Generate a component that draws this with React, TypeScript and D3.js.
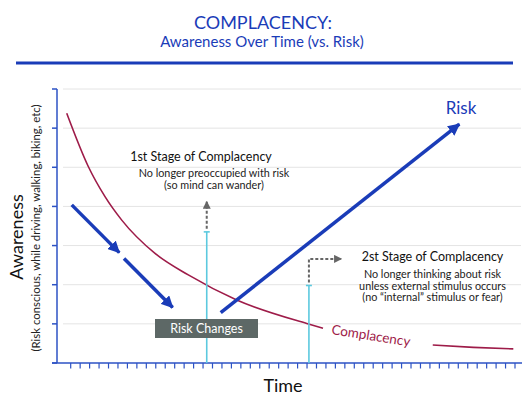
import { useMemo } from 'react'
import * as d3 from 'd3'

// awareness levels (y gridlines) and time ticks
const awarenessLevels = [0, 1, 2, 3, 4, 5, 6, 7]
const timeTicks = [
  0, 1, 2, 3, 4, 5, 6, 7, 8, 9, 10, 11, 12, 13, 14, 15, 16, 17, 18, 19, 20, 21, 22, 23,
  24, 25, 26, 27, 28, 29, 30, 31, 32, 33, 34, 35, 36, 37, 38, 39, 40, 41, 42, 43, 44, 45, 46, 47,
]

// [time, awareness]
const complacencyHead: [number, number][] = [
  [-0.42, 6.38], [1.86, 5.02], [3.63, 4.25], [5.4, 3.65], [8.92, 2.8],
  [12.44, 2.25], [17.56, 1.61], [24.97, 1.01], [26.69, 0.89],
]
const complacencyTail: [number, number][] = [[38.3, 0.46], [42.59, 0.4], [46.82, 0.36]]

const riskDropA: [number, number][] = [[0.11, 4.04], [5.14, 2.82]]
const riskDropB: [number, number][] = [[5.64, 2.67], [10.79, 1.42]]
const riskRise: [number, number][] = [[15.87, 1.29], [41.11, 6.1]]

const stage1 = { t: 14.39, level: 3.35, dashTo: 4.12 }
const stage2 = { t: 25.2, level: 1.98, turn: 2.66, dashToT: 28.6 }

const stage1Lines = ['No longer preoccupied with risk', '(so mind can wander)']
const stage2Lines = [
  'No longer thinking about risk',
  'unless external stimulus occurs',
  '(no \u201cinternal\u201d stimulus or fear)',
]

const BLUE = '#1a3cb8'
const AXIS = '#2d52c4'
const CRIMSON = '#9e1c49'
const CYAN = '#5cc9df'
const GRAY = '#666'
const FONT = 'Lato, "Open Sans", sans-serif'

export default function App() {
  const x = useMemo(() => d3.scaleLinear().domain([0, 47]).range([70.7, 515]), [])
  const y = useMemo(() => d3.scaleLinear().domain([0, 7]).range([363, 89]), [])

  const curve = d3
    .line<[number, number]>()
    .x((d) => x(d[0]))
    .y((d) => y(d[1]))
    .curve(d3.curveMonotoneX)
  const straight = d3
    .line<[number, number]>()
    .x((d) => x(d[0]))
    .y((d) => y(d[1]))

  return (
    <svg
      width={527}
      height={399}
      style={{ position: 'absolute', left: 0, top: 0, background: '#fff' }}
      fontFamily={FONT}
    >
      <defs>
        <marker id="blueHead" markerUnits="userSpaceOnUse" markerWidth={12} markerHeight={12}
          viewBox="0 0 12 12" refX={11} refY={6} orient="auto">
          <path d="M0,0 L12,6 L0,12 Z" fill={BLUE} />
        </marker>
        <marker id="grayHead" markerUnits="userSpaceOnUse" markerWidth={8} markerHeight={8}
          viewBox="0 0 8 8" refX={7} refY={4} orient="auto">
          <path d="M0,0 L8,4 L0,8 Z" fill={GRAY} />
        </marker>
      </defs>

      {/* title */}
      <text x={263} y={29} textAnchor="middle" fill={BLUE} fontSize={18}>COMPLACENCY:</text>
      <text x={262} y={47} textAnchor="middle" fill={BLUE} fontSize={15}>Awareness Over Time (vs. Risk)</text>
      <line x1={16} x2={513} y1={63} y2={63} stroke={BLUE} strokeWidth={3} />

      {/* gridlines */}
      {awarenessLevels.slice(1).map((l) => (
        <line key={l} x1={63} x2={521} y1={y(l)} y2={y(l)} stroke="#e4e4e4" strokeWidth={1} />
      ))}

      {/* axes */}
      <line x1={57} x2={57} y1={y(7)} y2={y(0)} stroke={AXIS} strokeWidth={1.5} />
      {awarenessLevels.map((l) => (
        <line key={l} x1={52} x2={57} y1={y(l)} y2={y(l)} stroke={AXIS} strokeWidth={1.5} />
      ))}
      <line x1={52} x2={522} y1={y(0)} y2={y(0)} stroke={AXIS} strokeWidth={1.5} />
      {timeTicks.map((t) => (
        <line key={t} x1={x(t)} x2={x(t)} y1={y(0)} y2={y(0) + 5.5} stroke={AXIS} strokeWidth={1.2} />
      ))}

      <text x={283} y={392} textAnchor="middle" fontSize={18} fill="#111">Time</text>
      <text transform="translate(23,237) rotate(-90)" textAnchor="middle" fontSize={18} fill="#111">Awareness</text>
      <text transform="translate(40,228) rotate(-90)" textAnchor="middle" fontSize={11.4} fill="#222">
        (Risk conscious, while driving, walking, biking, etc)
      </text>

      {/* complacency curve */}
      <path d={curve(complacencyHead) ?? ''} fill="none" stroke={CRIMSON} strokeWidth={1.6} />
      <path d={curve(complacencyTail) ?? ''} fill="none" stroke={CRIMSON} strokeWidth={1.6} />
      <text transform="translate(331,334) rotate(9)" fontSize={13.5} fill={CRIMSON}>Complacency</text>

      {/* stage markers */}
      <line x1={x(stage1.t)} x2={x(stage1.t)} y1={y(0)} y2={y(stage1.level)} stroke={CYAN} strokeWidth={1.6} />
      <line x1={x(stage1.t) - 3} x2={x(stage1.t) + 3} y1={y(stage1.level)} y2={y(stage1.level)} stroke={CYAN} strokeWidth={1.6} />
      <line x1={x(stage1.t)} x2={x(stage1.t)} y1={y(stage1.level) - 3} y2={y(stage1.dashTo)}
        stroke={GRAY} strokeWidth={2} strokeDasharray="3,2" markerEnd="url(#grayHead)" />

      <line x1={x(stage2.t)} x2={x(stage2.t)} y1={y(0)} y2={y(stage2.level)} stroke={CYAN} strokeWidth={1.6} />
      <line x1={x(stage2.t) - 3} x2={x(stage2.t) + 3} y1={y(stage2.level)} y2={y(stage2.level)} stroke={CYAN} strokeWidth={1.6} />
      <path
        d={`M${x(stage2.t)},${y(stage2.level) - 3} L${x(stage2.t)},${y(stage2.turn)} L${x(stage2.dashToT)},${y(stage2.turn)}`}
        fill="none" stroke={GRAY} strokeWidth={2} strokeDasharray="3,2" markerEnd="url(#grayHead)" />

      {/* risk arrows */}
      <path d={straight(riskDropA) ?? ''} stroke={BLUE} strokeWidth={3.5} fill="none" markerEnd="url(#blueHead)" />
      <path d={straight(riskDropB) ?? ''} stroke={BLUE} strokeWidth={3.5} fill="none" markerEnd="url(#blueHead)" />
      <path d={straight(riskRise) ?? ''} stroke={BLUE} strokeWidth={3.5} fill="none" markerEnd="url(#blueHead)" />
      <text x={461} y={114} textAnchor="middle" fontSize={17} fill={BLUE}>Risk</text>

      {/* risk changes label */}
      <rect x={155} y={319} width={103} height={19} fill="#5d6866" />
      <text x={206.5} y={333} textAnchor="middle" fontSize={12.5} fill="#fff">Risk Changes</text>

      {/* stage 1 text */}
      <text x={201} y={161} textAnchor="middle" fontSize={12.5} fill="#111">1st Stage of Complacency</text>
      {stage1Lines.map((s, i) => (
        <text key={s} x={214} y={177 + i * 11.5} textAnchor="middle" fontSize={10.8} fill="#222">{s}</text>
      ))}

      {/* stage 2 text */}
      <text x={432.5} y={261} textAnchor="middle" fontSize={12.5} fill="#111">2st Stage of Complacency</text>
      {stage2Lines.map((s, i) => (
        <text key={s} x={432.5} y={278 + i * 11.7} textAnchor="middle" fontSize={10.8} fill="#222">{s}</text>
      ))}
    </svg>
  )
}
